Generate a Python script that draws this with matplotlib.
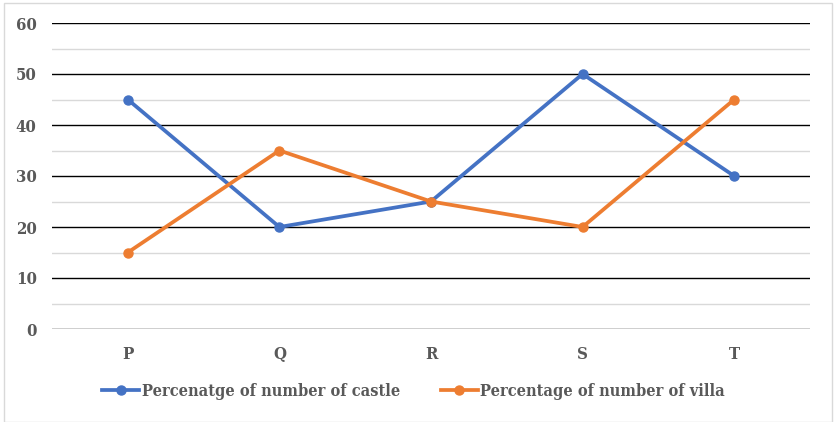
import matplotlib.pyplot as plt
from matplotlib.patches import Rectangle
from matplotlib.ticker import MultipleLocator

categories = ['P', 'Q', 'R', 'S', 'T']
castle = [45, 20, 25, 50, 30]
villa = [15, 35, 25, 20, 45]

text_color = '#595959'

fig = plt.figure(figsize=(8.36, 4.22), dpi=100)
fig.patches.append(Rectangle((4 / 836, 0), 828 / 836, 1 - 3 / 422, transform=fig.transFigure,
                             fill=False, edgecolor='#d9d9d9', linewidth=1))
ax = fig.add_axes([52 / 836, 1 - 329 / 422, 758 / 836, 306 / 422])

x = range(len(categories))
ax.plot(x, castle, color='#4472c4', linewidth=2.7, marker='o', markersize=6.5,
        label='Percenatge of number of castle', zorder=3)
ax.plot(x, villa, color='#ed7d31', linewidth=2.7, marker='o', markersize=6.5,
        label='Percentage of number of villa', zorder=3)

ax.set_xlim(-0.5, 4.5)
ax.set_ylim(0, 60)
ax.yaxis.set_major_locator(MultipleLocator(10))
ax.yaxis.set_minor_locator(MultipleLocator(5))
ax.grid(which='major', axis='y', color='black', linewidth=1)
ax.grid(which='minor', axis='y', color='#d9d9d9', linewidth=1)
ax.set_axisbelow(True)
for s in ax.spines.values():
    s.set_visible(False)
ax.axhline(0, color='#d9d9d9', linewidth=1, zorder=2)

ax.set_xticks(list(x))
ax.set_xticklabels(categories)
ax.tick_params(axis='both', which='both', length=0)
ax.tick_params(axis='x', pad=12)
ax.tick_params(axis='y', pad=11)
for lab in ax.get_xticklabels() + ax.get_yticklabels():
    lab.set_fontfamily('DejaVu Serif')
    lab.set_fontstretch('condensed')
    lab.set_fontweight('bold')
    lab.set_color(text_color)
    lab.set_fontsize(12)

leg = ax.legend(loc='center', bbox_to_anchor=(0.477, (1 - 391 / 422 - (1 - 329 / 422)) / (306 / 422)),
                ncol=2, frameon=False, handlelength=2.3, handletextpad=0.15, columnspacing=2.5,
                prop={'family': 'DejaVu Serif', 'weight': 'bold', 'size': 11.7,
                      'stretch': 'condensed'})
for t in leg.get_texts():
    t.set_color(text_color)

fig.savefig('out.png', dpi=100)
